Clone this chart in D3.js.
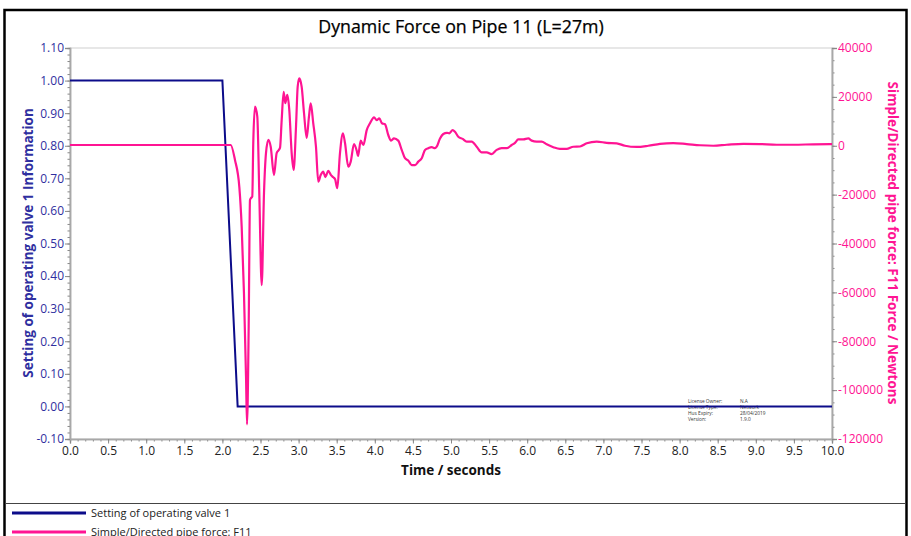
<!DOCTYPE html>
<html>
<head>
<meta charset="utf-8">
<script src="https://cdn.jsdelivr.net/npm/d3@7"></script>
<style>
html,body{margin:0;padding:0;background:#fff;}
svg{display:block;}
text{font-family:"Open Sans","Noto Sans",sans-serif;}
</style>
</head>
<body>
<svg id="chart" width="911" height="536"></svg>
<script>
// ---- data ----
const valveTime = [0, 2.0, 2.2, 10];
const valveSetting = [1.0, 1.0, 0.0, 0.0];

const forceTime = [0, 2.109, 2.165, 2.222, 2.253, 2.283, 2.310, 2.323, 2.345, 2.362, 2.375, 2.392, 2.405, 2.428, 2.458, 2.484, 2.516, 2.546, 2.572, 2.603, 2.634, 2.677, 2.712, 2.733, 2.756, 2.778, 2.804, 2.825, 2.852, 2.878, 2.909, 2.935, 2.966, 2.988, 3.009, 3.040, 3.071, 3.106, 3.136, 3.159, 3.192, 3.228, 3.258, 3.290, 3.324, 3.350, 3.390, 3.425, 3.455, 3.478, 3.508, 3.543, 3.582, 3.609, 3.652, 3.684, 3.727, 3.766, 3.780, 3.815, 3.850, 3.894, 3.937, 3.990, 4.025, 4.059, 4.094, 4.134, 4.177, 4.213, 4.252, 4.308, 4.353, 4.396, 4.440, 4.484, 4.528, 4.571, 4.616, 4.659, 4.702, 4.747, 4.790, 4.812, 4.856, 4.899, 4.947, 4.978, 5.022, 5.052, 5.096, 5.154, 5.206, 5.272, 5.337, 5.403, 5.468, 5.534, 5.600, 5.665, 5.731, 5.797, 5.840, 5.883, 5.949, 6.014, 6.059, 6.124, 6.190, 6.256, 6.343, 6.430, 6.518, 6.605, 6.693, 6.781, 6.912, 7.043, 7.175, 7.283, 7.437, 7.589, 7.743, 7.917, 8.093, 8.268, 8.442, 8.618, 8.836, 9.055, 9.274, 9.493, 9.755, 10.0];
const forceValue = [300, 300, -5800, -16800, -33100, -60300, -94500, -114000, -74000, -22200, -21400, -20800, 1100, 16000, 11900, -19300, -57000, -19300, -3000, 2400, -400, -12000, -3000, -2000, -900, 10500, 22100, 17400, 20800, 14600, -3000, -9900, 7800, 24200, 27600, 24200, 13400, 3200, 11900, 17400, 9300, -400, -14700, -12000, -10600, -12800, -10300, -12000, -12900, -13600, -17400, -3000, 5100, 1100, -8600, -6500, 700, -2400, -4200, 2100, 300, 6400, 9200, 11600, 10500, 11200, 9200, 8800, 4400, 2100, 3000, 2100, -1700, -5100, -6100, -7900, -7900, -6500, -5100, -1700, -1000, -600, -1000, -400, 3000, 4800, 5300, 5100, 6400, 5700, 3700, 2800, 1700, 1700, -400, -2700, -2700, -3400, -1700, -1000, -1000, 300, 1200, 2600, 2600, 3000, 2100, 1700, 1700, 600, -600, -1300, -1300, -400, -300, 1000, 1700, 1200, 1000, 0, -500, 0, 800, 1100, 700, 200, 0, 400, 800, 700, 400, 400, 600, 700];

const xTicks = d3.range(0, 10.001, 0.5);
const leftTicks = d3.range(-0.1, 1.1001, 0.1);
const rightTicks = d3.range(-120000, 40001, 20000);

const titleText = "Dynamic Force on Pipe 11 (L=27m)";
const xTitle = "Time / seconds";
const leftTitle = "Setting of operating valve 1 Information";
const rightTitle = "Simple/Directed pipe force: F11 Force / Newtons";
const legendLabels = ["Setting of operating valve 1", "Simple/Directed pipe force: F11"];
const licenseLabels = ["License Owner:", "License Type:", "Hus Expiry:", "Version:"];
const licenseValues = ["N.A", "Network", "28/04/2019", "1.9.0"];

// ---- layout ----
const plot = {left: 70, right: 832, top: 48, bottom: 439};
const blue = "#0c0c8a", pink = "#ff1493", blueText = "#2f2fa0", axisGrey = "#a8a8a8";
const hyphen = f => d => f(d).replace("\u2212", "-");

const svg = d3.select("#chart");

// frame
svg.append("rect").attr("x", 4.5).attr("y", 10).attr("width", 902).attr("height", 560)
  .attr("fill", "none").attr("stroke", "#000").attr("stroke-width", 2.5);
svg.append("line").attr("x1", 5).attr("x2", 906).attr("y1", 503.5).attr("y2", 503.5)
  .attr("stroke", "#444").attr("stroke-width", 1.2);

const x = d3.scaleLinear().domain([0, 10]).range([plot.left, plot.right]);
const yL = d3.scaleLinear().domain([-0.1, 1.1]).range([plot.bottom, plot.top]);
const yR = d3.scaleLinear().domain([-120000, 40000]).range([plot.bottom, plot.top]);

// title
svg.append("text").attr("x", 461).attr("y", 33).attr("text-anchor", "middle")
  .attr("font-size", 17.8).attr("fill", "#000").attr("stroke", "#000").attr("stroke-width", 0.25)
  .text(titleText);

// plot box
svg.append("rect").attr("x", plot.left).attr("y", plot.top)
  .attr("width", plot.right - plot.left).attr("height", plot.bottom - plot.top)
  .attr("fill", "#fff").attr("stroke", "#d0d0d0").attr("stroke-width", 1);

// minor ticks
const minorX = d3.range(0, 10.001, 0.1);
const minorL = d3.range(-0.1, 1.1001, 0.02);
const minorR = d3.range(-120000, 40001, 5000);

const gx = svg.append("g").attr("transform", `translate(0,${plot.bottom})`);
gx.call(d3.axisBottom(x).tickValues(minorX).tickSize(2.5).tickFormat(""));
const gx2 = svg.append("g").attr("transform", `translate(0,${plot.bottom})`);
gx2.call(d3.axisBottom(x).tickValues(xTicks).tickSize(4.5).tickPadding(3).tickFormat(hyphen(d3.format(".1f"))));

const gl = svg.append("g").attr("transform", `translate(${plot.left},0)`);
gl.call(d3.axisLeft(yL).tickValues(minorL).tickSize(2.5).tickFormat(""));
const gl2 = svg.append("g").attr("transform", `translate(${plot.left},0)`);
gl2.call(d3.axisLeft(yL).tickValues(leftTicks).tickSize(5).tickPadding(1).tickFormat(hyphen(d3.format(".2f"))));

const gr = svg.append("g").attr("transform", `translate(${plot.right},0)`);
gr.call(d3.axisRight(yR).tickValues(minorR).tickSize(2.5).tickFormat(""));
const gr2 = svg.append("g").attr("transform", `translate(${plot.right},0)`);
gr2.call(d3.axisRight(yR).tickValues(rightTicks).tickSize(5).tickPadding(1).tickFormat(hyphen(d3.format("d"))));

svg.selectAll(".domain").attr("stroke", axisGrey).attr("stroke-width", 1.5);
svg.selectAll(".tick line").attr("stroke", "#888");
gx2.selectAll("text").attr("font-size", 12).attr("fill", "#222");
gl2.selectAll("text").attr("font-size", 12).attr("fill", blueText);
gr2.selectAll("text").attr("font-size", 12).attr("fill", pink);
svg.selectAll(".tick text").attr("font-family", '"Open Sans","Noto Sans",sans-serif');

// axis titles
svg.append("text").attr("x", 451).attr("y", 475).attr("text-anchor", "middle")
  .attr("font-size", 13.5).attr("font-weight", "bold").attr("fill", "#111").text(xTitle);
svg.append("text").attr("transform", "translate(33,243) rotate(-90)").attr("text-anchor", "middle")
  .attr("font-size", 13.5).attr("font-weight", "bold").attr("fill", blueText).text(leftTitle);
svg.append("text").attr("transform", "translate(888,243) rotate(90)").attr("text-anchor", "middle")
  .attr("font-size", 13.5).attr("font-weight", "bold").attr("fill", pink).text(rightTitle);

// clip
svg.append("clipPath").attr("id", "clip").append("rect")
  .attr("x", plot.left).attr("y", plot.top - 2)
  .attr("width", plot.right - plot.left).attr("height", plot.bottom - plot.top + 2);

// license text
const lic = svg.append("g").attr("font-family", '"DejaVu Sans Mono","Liberation Mono",monospace')
  .attr("font-size", 4.8).attr("fill", "#333");
licenseLabels.forEach((l, i) => {
  lic.append("text").attr("x", 688).attr("y", 402.5 + i * 6.2).text(l);
  lic.append("text").attr("x", 740).attr("y", 402.5 + i * 6.2).text(licenseValues[i]);
});

// lines
const valveData = valveTime.map((t, i) => ({t, v: valveSetting[i]}));
const forceData = forceTime.map((t, i) => ({t, v: forceValue[i]}));

const g = svg.append("g").attr("clip-path", "url(#clip)");
g.append("path").datum(valveData)
  .attr("d", d3.line().x(d => x(d.t)).y(d => yL(d.v)))
  .attr("fill", "none").attr("stroke", blue).attr("stroke-width", 2);
g.append("path").datum(forceData)
  .attr("d", d3.line().curve(d3.curveMonotoneX).x(d => x(d.t)).y(d => yR(d.v)))
  .attr("fill", "none").attr("stroke", pink).attr("stroke-width", 2.2).attr("stroke-linejoin", "round");

// legend
const legColors = [blue, pink];
legendLabels.forEach((l, i) => {
  const yy = 513 + i * 19;
  svg.append("line").attr("x1", 12).attr("x2", 86).attr("y1", yy).attr("y2", yy)
    .attr("stroke", legColors[i]).attr("stroke-width", 3);
  svg.append("text").attr("x", 91).attr("y", yy + 3.5).attr("font-size", 11)
    .attr("fill", "#222").text(l);
});
</script>
</body>
</html>
